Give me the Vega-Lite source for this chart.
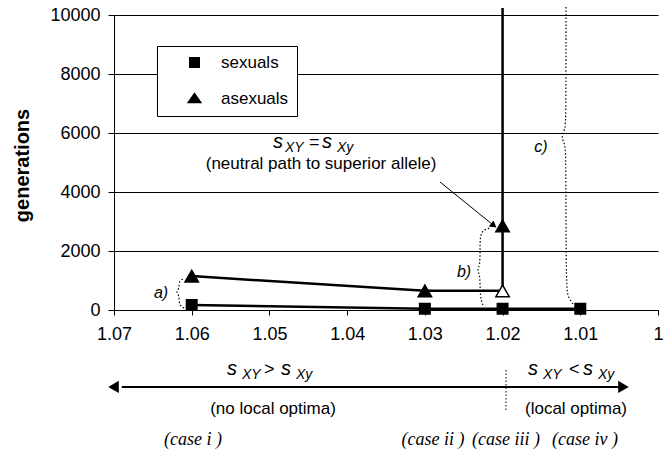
{
  "$schema": "https://vega.github.io/schema/vega-lite/v6.json",
  "width": 544,
  "height": 295,
  "autosize": {"type": "none"},
  "padding": {"left": 114, "top": 15, "right": 12, "bottom": 141},
  "config": {"view": {"stroke": null}, "font": "Liberation Sans"},
  "datasets": {
    "points": [
      {"series": "sexuals", "x": 1.06, "y": 170, "ord": 1, "marker": "filled"},
      {"series": "sexuals", "x": 1.03, "y": 45, "ord": 2, "marker": "filled"},
      {"series": "sexuals", "x": 1.02, "y": 45, "ord": 3, "marker": "filled"},
      {"series": "sexuals", "x": 1.01, "y": 45, "ord": 4, "marker": "filled"},
      {"series": "asexuals", "x": 1.06, "y": 1150, "ord": 1, "marker": "filled"},
      {"series": "asexuals", "x": 1.03, "y": 650, "ord": 2, "marker": "filled"},
      {"series": "asexuals", "x": 1.02, "y": 650, "ord": 3, "marker": "open"},
      {"series": "asexuals", "x": 1.02, "y": 2850, "ord": 4, "marker": "filled"},
      {"series": "asexuals", "x": 1.02, "y": 10240, "ord": 5, "marker": "none"}
    ],
    "braces": [
      {"brace": "a", "ord": 1, "x": 1.06099, "y": 68},
      {"brace": "a", "ord": 2, "x": 1.06151, "y": 136},
      {"brace": "a", "ord": 3, "x": 1.06164, "y": 339},
      {"brace": "a", "ord": 4, "x": 1.06164, "y": 508},
      {"brace": "a", "ord": 5, "x": 1.06202, "y": 610},
      {"brace": "a", "ord": 6, "x": 1.06164, "y": 712},
      {"brace": "a", "ord": 7, "x": 1.06164, "y": 881},
      {"brace": "a", "ord": 8, "x": 1.06151, "y": 1017},
      {"brace": "a", "ord": 9, "x": 1.06099, "y": 1051},
      {"brace": "b", "ord": 1, "x": 1.02252, "y": 169},
      {"brace": "b", "ord": 2, "x": 1.02278, "y": 339},
      {"brace": "b", "ord": 3, "x": 1.0229, "y": 678},
      {"brace": "b", "ord": 4, "x": 1.0229, "y": 1186},
      {"brace": "b", "ord": 5, "x": 1.02329, "y": 1356},
      {"brace": "b", "ord": 6, "x": 1.0229, "y": 1525},
      {"brace": "b", "ord": 7, "x": 1.0229, "y": 2034},
      {"brace": "b", "ord": 8, "x": 1.0229, "y": 2508},
      {"brace": "b", "ord": 9, "x": 1.02252, "y": 2712},
      {"brace": "b", "ord": 10, "x": 1.02162, "y": 2780},
      {"brace": "c", "ord": 1, "x": 1.01184, "y": 10271},
      {"brace": "c", "ord": 2, "x": 1.01184, "y": 6441},
      {"brace": "c", "ord": 3, "x": 1.01197, "y": 6102},
      {"brace": "c", "ord": 4, "x": 1.01248, "y": 5864},
      {"brace": "c", "ord": 5, "x": 1.01197, "y": 5627},
      {"brace": "c", "ord": 6, "x": 1.01184, "y": 5254},
      {"brace": "c", "ord": 7, "x": 1.01184, "y": 847},
      {"brace": "c", "ord": 8, "x": 1.01158, "y": 407},
      {"brace": "c", "ord": 9, "x": 1.01081, "y": 169}
    ],
    "pointer": [{"x": 1.02805, "y": 4339, "x2": 1.02113, "y2": 2864}],
    "pointerHead": [{"x": 1.02113, "y": 2864}],
    "spectrum": [{"x": 1.069, "y": -2610, "x2": 1.005, "y2": -2610}],
    "leftHead": [{"x": 1.07006, "y": -2610}],
    "rightHead": [{"x": 1.00444, "y": -2610}],
    "divider": [{"x": 1.01956, "y": -2034, "x2": 1.01956, "y2": -3390}],
    "plainText": [
      {"t": "(neutral path to superior allele)", "x": 1.04336, "y": 4949},
      {"t": "(no local optima)", "x": 1.04954, "y": -3356},
      {"t": "(local optima)", "x": 1.01055, "y": -3356}
    ],
    "braceText": [
      {"t": "a)", "x": 1.06395, "y": 576},
      {"t": "b)", "x": 1.02496, "y": 1288},
      {"t": "c)", "x": 1.01506, "y": 5525}
    ],
    "caseText": [
      {"t": "(case i )", "x": 1.05983, "y": -4407},
      {"t": "(case ii )", "x": 1.02895, "y": -4407},
      {"t": "(case iii )", "x": 1.01956, "y": -4407},
      {"t": "(case iv )", "x": 1.00939, "y": -4407}
    ],
    "formula": [
      {"kind": "s", "t": "s", "x": 1.04954, "y": 5492},
      {"kind": "sub", "t": "XY", "x": 1.048, "y": 5356},
      {"kind": "op", "t": "=", "x": 1.04491, "y": 5492},
      {"kind": "s", "t": "s", "x": 1.04324, "y": 5492},
      {"kind": "sub", "t": "Xy", "x": 1.04131, "y": 5356},
      {"kind": "s", "t": "s", "x": 1.05546, "y": -2203},
      {"kind": "sub", "t": "XY", "x": 1.05353, "y": -2339},
      {"kind": "op", "t": ">", "x": 1.0507, "y": -2203},
      {"kind": "s", "t": "s", "x": 1.04851, "y": -2203},
      {"kind": "sub", "t": "Xy", "x": 1.04658, "y": -2339},
      {"kind": "s", "t": "s", "x": 1.01673, "y": -2203},
      {"kind": "sub", "t": "XY", "x": 1.0148, "y": -2339},
      {"kind": "op", "t": "<", "x": 1.01145, "y": -2203},
      {"kind": "s", "t": "s", "x": 1.00965, "y": -2203},
      {"kind": "sub", "t": "Xy", "x": 1.00772, "y": -2339}
    ]
  },
  "encoding": {
    "x": {
      "field": "x",
      "type": "quantitative",
      "scale": {"domain": [1.0, 1.07], "reverse": true, "nice": false, "zero": false},
      "axis": {
        "values": [1.0, 1.01, 1.02, 1.03, 1.04, 1.05, 1.06, 1.07],
        "labelExpr": "format(datum.value, '.2~f')",
        "title": null,
        "grid": false,
        "domainColor": "black",
        "domainWidth": 1,
        "tickColor": "black",
        "tickSize": 5,
        "labelFont": "Liberation Sans",
        "labelFontSize": 18,
        "labelColor": "black",
        "labelPadding": 10,
        "labelFlush": false,
        "labelOverlap": false
      }
    },
    "y": {
      "field": "y",
      "type": "quantitative",
      "scale": {"domain": [0, 10000], "nice": false, "zero": false},
      "axis": {
        "values": [0, 2000, 4000, 6000, 8000, 10000],
        "format": "d",
        "title": "generations",
        "titleFont": "Liberation Sans",
        "titleFontSize": 20,
        "titleFontWeight": "bold",
        "titleColor": "black",
        "titleX": -92,
        "titleY": 150,
        "titleAngle": 270,
        "titleAlign": "center",
        "titleBaseline": "middle",
        "grid": true,
        "gridColor": "black",
        "gridWidth": 1,
        "gridOpacity": 1,
        "domainColor": "black",
        "tickColor": "black",
        "tickSize": 6,
        "labelFont": "Liberation Sans",
        "labelFontSize": 18,
        "labelColor": "black",
        "labelPadding": 8,
        "labelFlush": false
      }
    }
  },
  "layer": [
    {
      "data": {"name": "braces"},
      "mark": {"type": "line", "color": "black", "strokeWidth": 1.2, "strokeDash": [1.5, 2], "interpolate": "basis", "clip": false},
      "encoding": {"detail": {"field": "brace"}, "order": {"field": "ord"}}
    },
    {
      "data": {"name": "points"},
      "mark": {"type": "line", "color": "black", "strokeWidth": 2.5, "clip": false},
      "encoding": {"detail": {"field": "series"}, "order": {"field": "ord"}}
    },
    {
      "data": {"name": "points"},
      "transform": [{"filter": "datum.marker !== 'none'"}],
      "mark": {"type": "point", "filled": true, "color": "black", "fill": "black", "stroke": "black", "strokeWidth": 2, "opacity": 0, "size": 10, "clip": false},
      "encoding": {
        "shape": {
          "field": "series",
          "type": "nominal",
          "scale": {"domain": ["sexuals", "asexuals"], "range": ["M-4.3,0H4.3M-1,-1H1V1H-1Z", "M-4.3,0H4.3M0,-1.15L-1.4,0.85H1.4Z"]},
          "legend": {
            "title": null,
            "orient": "none",
            "legendX": 43,
            "legendY": 31,
            "direction": "vertical",
            "strokeColor": "black",
            "fillColor": "white",
            "padding": 8,
            "symbolSize": 121,
            "symbolOffset": 21,
            "labelOffset": 18,
            "rowPadding": 16,
            "labelFont": "Liberation Sans",
            "labelFontSize": 17,
            "labelColor": "black",
            "symbolFillColor": "black",
            "symbolStrokeColor": "black",
            "symbolStrokeWidth": 2,
            "symbolOpacity": 1
          }
        }
      }
    },
    {
      "data": {"name": "points"},
      "transform": [{"filter": "datum.marker !== 'none'"}],
      "mark": {"type": "point", "filled": true, "stroke": "black", "strokeWidth": 1.5, "opacity": 1, "clip": false},
      "encoding": {
        "shape": {"condition": {"test": "datum.series === 'sexuals'", "value": "square"}, "value": "triangle-up"},
        "size": {"condition": {"test": "datum.series === 'sexuals'", "value": 110}, "value": 180},
        "fill": {"field": "marker", "type": "nominal", "scale": {"domain": ["filled", "open"], "range": ["black", "white"]}, "legend": null}
      }
    },
    {
      "data": {"name": "pointer"},
      "mark": {"type": "rule", "color": "black", "strokeWidth": 1, "clip": false},
      "encoding": {"x2": {"field": "x2"}, "y2": {"field": "y2"}}
    },
    {
      "data": {"name": "pointerHead"},
      "mark": {"type": "point", "shape": "triangle-up", "angle": 128, "filled": true, "color": "black", "opacity": 1, "size": 60, "clip": false},
      "encoding": {}
    },
    {
      "data": {"name": "spectrum"},
      "mark": {"type": "rule", "color": "black", "strokeWidth": 2, "clip": false},
      "encoding": {"x2": {"field": "x2"}, "y2": {"field": "y2"}}
    },
    {
      "data": {"name": "leftHead"},
      "mark": {"type": "point", "shape": "triangle-left", "filled": true, "color": "black", "opacity": 1, "size": 150, "clip": false},
      "encoding": {}
    },
    {
      "data": {"name": "rightHead"},
      "mark": {"type": "point", "shape": "triangle-right", "filled": true, "color": "black", "opacity": 1, "size": 150, "clip": false},
      "encoding": {}
    },
    {
      "data": {"name": "divider"},
      "mark": {"type": "rule", "color": "black", "strokeWidth": 1, "strokeDash": [1.5, 2], "clip": false},
      "encoding": {"x2": {"field": "x2"}, "y2": {"field": "y2"}}
    },
    {
      "data": {"name": "plainText"},
      "mark": {"type": "text", "font": "Liberation Sans", "fontSize": 17, "color": "black", "align": "center", "baseline": "middle", "clip": false},
      "encoding": {"text": {"field": "t"}}
    },
    {
      "data": {"name": "braceText"},
      "mark": {"type": "text", "font": "Liberation Sans", "fontSize": 16, "fontStyle": "italic", "color": "black", "align": "center", "baseline": "middle", "clip": false},
      "encoding": {"text": {"field": "t"}}
    },
    {
      "data": {"name": "caseText"},
      "mark": {"type": "text", "font": "Liberation Serif", "fontSize": 18, "fontStyle": "italic", "color": "black", "align": "center", "baseline": "middle", "clip": false},
      "encoding": {"text": {"field": "t"}}
    },
    {
      "data": {"name": "formula"},
      "transform": [{"filter": "datum.kind === 's'"}],
      "mark": {"type": "text", "font": "Liberation Sans", "fontSize": 20, "fontStyle": "italic", "color": "black", "align": "left", "baseline": "alphabetic", "clip": false},
      "encoding": {"text": {"field": "t"}}
    },
    {
      "data": {"name": "formula"},
      "transform": [{"filter": "datum.kind === 'op'"}],
      "mark": {"type": "text", "font": "Liberation Sans", "fontSize": 18, "color": "black", "align": "left", "baseline": "alphabetic", "clip": false},
      "encoding": {"text": {"field": "t"}}
    },
    {
      "data": {"name": "formula"},
      "transform": [{"filter": "datum.kind === 'sub'"}],
      "mark": {"type": "text", "font": "Liberation Sans", "fontSize": 14, "fontStyle": "italic", "color": "black", "align": "left", "baseline": "alphabetic", "clip": false},
      "encoding": {"text": {"field": "t"}}
    }
  ]
}
